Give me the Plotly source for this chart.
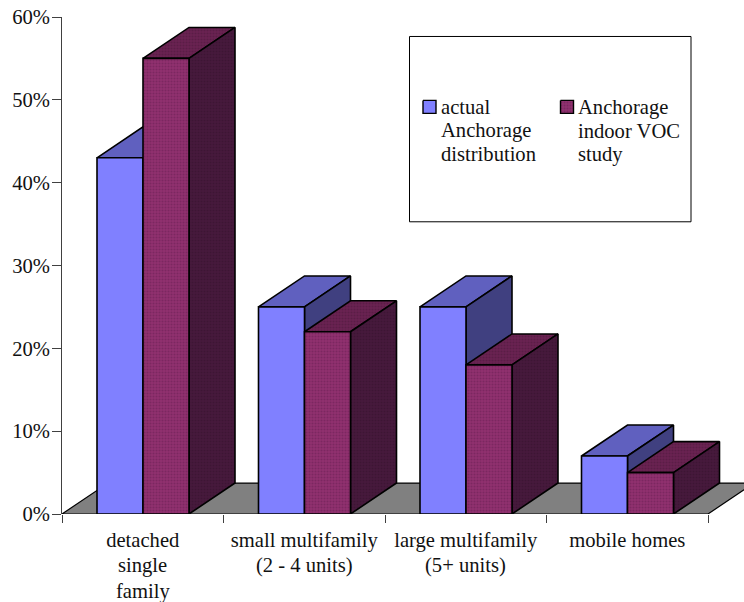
import plotly.graph_objects as go

categories = [["detached", "single", "family"], ["small multifamily", "(2 - 4 units)"],
              ["large multifamily", "(5+ units)"], ["mobile homes"]]
actual_distribution = [43, 25, 25, 7]
voc_study = [55, 22, 18, 5]
y_ticks = [0, 10, 20, 30, 40, 50, 60]
series_names = [["actual", "Anchorage", "distribution"], ["Anchorage", "indoor VOC", "study"]]

# Plot area in page pixels; one category is 161.5 px wide and 60% spans 497.5 px
LEFT, RIGHT, TOP, BOTTOM = 62, 744, 16.5, 514
CAT_PX = 161.5
PCT_PX = (BOTTOM - TOP) / 60
BAR_W = 46 / CAT_PX
GAP = 35 / CAT_PX
DX = 46 / CAT_PX   # oblique depth, horizontal part
DY = 31 / PCT_PX   # oblique depth, vertical part
FONT = dict(family="Liberation Serif", size=20.6, color="#111111")

BLUE = dict(front=("#8080ff", None), top=("#6060bf", None), side=("#404080", None))
PLUM = dict(front=("#90306f", "#681e52"), top=("#6a2252", "#4c173a"), side=("#47193c", "#33122b"))


def px_x(p):
    return (p - LEFT) / CAT_PX


def px_y(p):
    return (BOTTOM - p) / PCT_PX


fig = go.Figure()


def poly(xs, ys, colors, lw=1.6):
    fill, dots = colors
    kw = {}
    if dots:
        kw["fillpattern"] = dict(shape=".", size=3, solidity=0.4, bgcolor=fill, fgcolor=dots)
    fig.add_trace(go.Scatter(
        x=xs + xs[:1], y=ys + ys[:1], mode="lines", fill="toself",
        fillcolor=fill, line=dict(color="black", width=lw),
        hoverinfo="skip", showlegend=False, **kw))


def bar3d(x0, value, style):
    x1 = x0 + BAR_W
    poly([x0, x0 + DX, x1 + DX, x1], [value, value + DY, value + DY, value], style["top"])
    poly([x1, x1 + DX, x1 + DX, x1], [0, DY, value + DY, value], style["side"])
    poly([x0, x1, x1, x0], [0, 0, value, value], style["front"])


# Grey floor behind the bars, running off the right edge of the plot
poly([0, len(categories), len(categories) + DX, DX], [0, 0, DY, DY], ("#808080", None), lw=1.2)

for i in range(len(categories)):
    bar3d(i + GAP, actual_distribution[i], BLUE)
    bar3d(i + GAP + BAR_W, voc_study[i], PLUM)

# Legend frame and swatches
poly([px_x(409.5), px_x(691), px_x(691), px_x(409.5)], [px_y(36), px_y(36), px_y(221.5), px_y(221.5)],
     ("white", None), lw=1)
poly([px_x(423), px_x(436), px_x(436), px_x(423)], [px_y(100), px_y(100), px_y(113), px_y(113)],
     BLUE["front"], lw=1.4)
poly([px_x(560.5), px_x(573.5), px_x(573.5), px_x(560.5)], [px_y(100), px_y(100), px_y(113), px_y(113)],
     PLUM["front"], lw=1.4)

# Legend text, one annotation per line for the tighter leading
for lines, left in zip(series_names, (438.5, 576)):
    for line, centre in zip(lines, (107, 130.5, 154)):
        fig.add_annotation(x=px_x(left), y=px_y(centre), xanchor="left", yanchor="middle",
                           text=line, showarrow=False, font=FONT)

# Second and third lines of the category labels, set on a 25.5 px leading below the plot area
for i, lines in enumerate(categories):
    for line, centre in zip(lines[1:], (566, 591.5)):
        fig.add_annotation(x=i + 0.5, xref="x", y=(BOTTOM - centre) / (BOTTOM - TOP), yref="paper",
                           xanchor="center", yanchor="middle",
                           text=line, showarrow=False, font=FONT)

fig.update_layout(
    width=744, height=602,
    margin=dict(l=LEFT, r=0, t=TOP, b=602 - BOTTOM, autoexpand=False),
    plot_bgcolor="white", paper_bgcolor="white",
    showlegend=False,
    font=FONT,
    xaxis=dict(
        range=[0, (RIGHT - LEFT) / CAT_PX], showgrid=False, zeroline=False, showline=False,
        tickmode="array", tickvals=[i + 0.5 for i in range(len(categories))],
        ticktext=[lines[0] for lines in categories],
        ticks="", ticklabelstandoff=11, tickangle=0,
        minor=dict(tickmode="array", tickvals=list(range(len(categories) + 1)), ticks="outside",
                   ticklen=8, tickwidth=1, tickcolor="#404040", showgrid=False),
    ),
    yaxis=dict(
        range=[0, 60], showgrid=False, zeroline=False, showline=True, linecolor="#404040", linewidth=1,
        tickmode="array", tickvals=y_ticks, ticktext=[f"{v}%" for v in y_ticks],
        ticks="outside", ticklen=9, tickcolor="#404040", tickwidth=1, ticklabelstandoff=-2,
    ),
)

fig.write_html("out.html")
